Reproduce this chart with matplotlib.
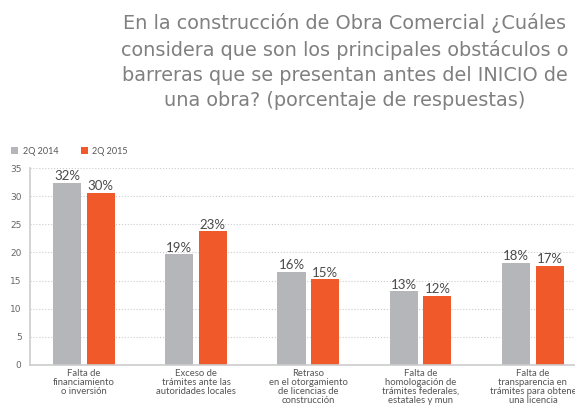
import matplotlib.pyplot as plt
import numpy as np

# data
categorias = ['Falta de\nfinanciamiento\no inversión',
              'Exceso de\ntrámites ante las\nautoridades locales',
              'Retraso\nen el otorgamiento\nde licencias de\nconstrucción',
              'Falta de\nhomologación de\ntrámites federales,\nestatales y mun',
              'Falta de\ntransparencia en\ntrámites para obtene\nuna licencia']
valores_2014 = [32.4, 19.7, 16.6, 13.1, 18.2]
valores_2015 = [30.6, 23.8, 15.2, 12.3, 17.6]
etiquetas_2014 = ['32%', '19%', '16%', '13%', '18%']
etiquetas_2015 = ['30%', '23%', '15%', '12%', '17%']
series = ['2Q 2014', '2Q 2015']

gris = '#b5b6b9'
naranja = '#f0592a'
texto = '#555555'

fig = plt.figure(figsize=(5.75, 4.09), dpi=100)
ax = fig.add_axes([0.052, 0.1076, 0.948, 0.4815])

x = np.arange(len(categorias))
w = 0.25
b1 = ax.bar(x - 0.15, valores_2014, w, color=gris, label=series[0])
b2 = ax.bar(x + 0.15, valores_2015, w, color=naranja, label=series[1])

for rect, lab in zip(b1, etiquetas_2014):
    ax.text(rect.get_x() + rect.get_width() / 2, rect.get_height() + 0.1, lab,
            ha='center', va='bottom', fontsize=9.5, color='#4a4a4a', family='Lato')
for rect, lab in zip(b2, etiquetas_2015):
    ax.text(rect.get_x() + rect.get_width() / 2, rect.get_height() + 0.1, lab,
            ha='center', va='bottom', fontsize=9.5, color='#4a4a4a', family='Lato')

ax.set_xlim(-0.48, 4.375)
ax.set_ylim(0, 35)
ax.set_yticks(range(0, 36, 5))
ax.yaxis.grid(True, linestyle=':', color='#cccccc', linewidth=0.8)
ax.set_axisbelow(True)
ax.set_xticks(x)
ax.set_xticklabels(categorias, fontsize=6.8, color=texto, family='Lato', linespacing=1.0)
ax.tick_params(axis='x', length=0, pad=3)
ax.tick_params(axis='y', length=0, labelsize=6.5, labelcolor='#666666', pad=6)
for s in ['top', 'right']:
    ax.spines[s].set_visible(False)
for s in ['left', 'bottom']:
    ax.spines[s].set_color('#cccccc')
    ax.spines[s].set_linewidth(1.2)

ax.legend(loc='lower left', bbox_to_anchor=(-0.05, 1.02), ncol=2, frameon=False,
          handlelength=0.8, handleheight=0.8, columnspacing=2.5,
          handletextpad=0.5, labelcolor=texto, prop={'family': 'Lato', 'size': 6.5})

fig.text(0.6, 0.968, 'En la construcción de Obra Comercial ¿Cuáles\n'
         'considera que son los principales obstáculos o\n'
         'barreras que se presentan antes del INICIO de\n'
         'una obra? (porcentaje de respuestas)',
         ha='center', va='top', fontsize=13.9, color='#808080', linespacing=1.42)

fig.savefig('out.png', dpi=100)
